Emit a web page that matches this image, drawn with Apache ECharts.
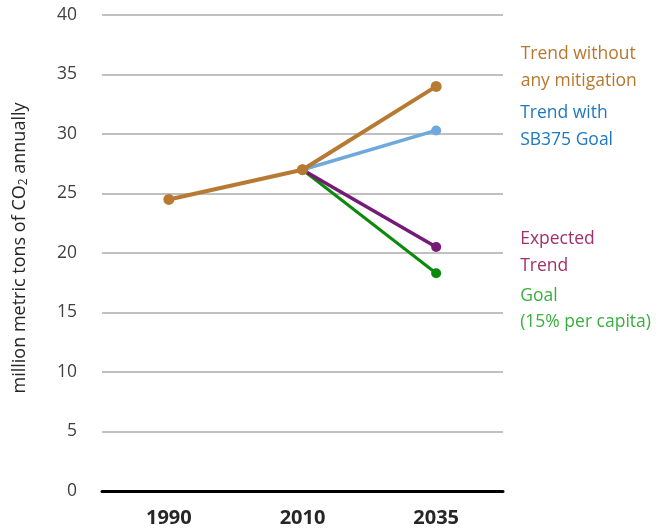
<!DOCTYPE html>
<html><head><meta charset="utf-8">
<script src="https://cdn.jsdelivr.net/npm/echarts@6/dist/echarts.min.js"></script>
<style>html,body{margin:0;padding:0;background:#fff}#c{width:662px;height:531px}</style>
</head><body><div id="c"></div>
<script>
const categories = ['1990', '2010', '2035'];
const noMitigation = [24.5, 27.0, 34.0];
const sb375Trend = ['-', 27.0, 30.3];
const expectedTrend = ['-', 27.0, 20.5];
const goal = ['-', 27.0, 18.3];
const yTicks = [0, 5, 10, 15, 20, 25, 30, 35, 40];

const FONT = 'Open Sans';
function lab(text, color, dy) {
  return {
    show: true, position: 'right', distance: 79, offset: [0, dy],
    formatter: text, color: color, fontFamily: FONT, fontSize: 17.5, lineHeight: 26.5, align: 'left'
  };
}
function mkData(arr, labelCfg) {
  return arr.map((v, i) => (i === arr.length - 1 ? { value: v, label: labelCfg } : v));
}
const chart = echarts.init(document.getElementById('c'));
chart.setOption({
  animation: false,
  grid: { left: 102, right: 159, top: 15, bottom: 40, containLabel: false },
  xAxis: {
    type: 'category', data: categories, boundaryGap: true,
    axisLine: { lineStyle: { color: '#000', width: 3 } },
    axisTick: { show: false },
    axisLabel: { fontFamily: FONT, fontSize: 20, fontWeight: 'bold', color: '#262626', margin: 17 }
  },
  yAxis: {
    type: 'value', min: yTicks[0], max: yTicks[yTicks.length - 1], interval: 5,
    axisLine: { show: false }, axisTick: { show: false },
    splitLine: { lineStyle: { color: '#ababab', width: 1.5 } },
    axisLabel: { fontFamily: FONT, fontSize: 17.5, color: '#404040', margin: 25 },
    name: 'million metric tons of CO{s|2} annually',
    nameLocation: 'middle', nameGap: 72, nameRotate: 90,
    nameTextStyle: {
      fontFamily: FONT, fontSize: 18, color: '#262626', padding: [0, 0, 0, 10],
      rich: { s: { fontFamily: FONT, fontSize: 12, color: '#262626', padding: [9, 0, 0, 0] } }
    }
  },
  series: [
    { type: 'line', name: 'Goal', data: mkData(goal, lab('Goal\n(15% per capita)', '#3aae3f', 36)),
      symbol: 'circle', symbolSize: 10, lineStyle: { color: '#0b8a0b', width: 3 }, itemStyle: { color: '#0b8a0b' }, z: 2 },
    { type: 'line', name: 'Expected Trend', data: mkData(expectedTrend, lab('Expected\nTrend', '#a0306c', 5.5)),
      symbol: 'circle', symbolSize: 10, lineStyle: { color: '#761a78', width: 3.5 }, itemStyle: { color: '#761a78' }, z: 3 },
    { type: 'line', name: 'Trend with SB375 Goal', data: mkData(sb375Trend, lab('Trend with\nSB375 Goal', '#1f78c1', -4)),
      symbol: 'circle', symbolSize: 10, lineStyle: { color: '#6fa8dc', width: 3.5 }, itemStyle: { color: '#6fa8dc' }, z: 4 },
    { type: 'line', name: 'Trend without any mitigation', data: mkData(noMitigation, lab('Trend without\nany mitigation', '#b8772f', -19)),
      symbol: 'circle', symbolSize: 11, lineStyle: { color: '#b87a32', width: 4 }, itemStyle: { color: '#b87a32' }, z: 5 }
  ]
});
</script></body></html>
